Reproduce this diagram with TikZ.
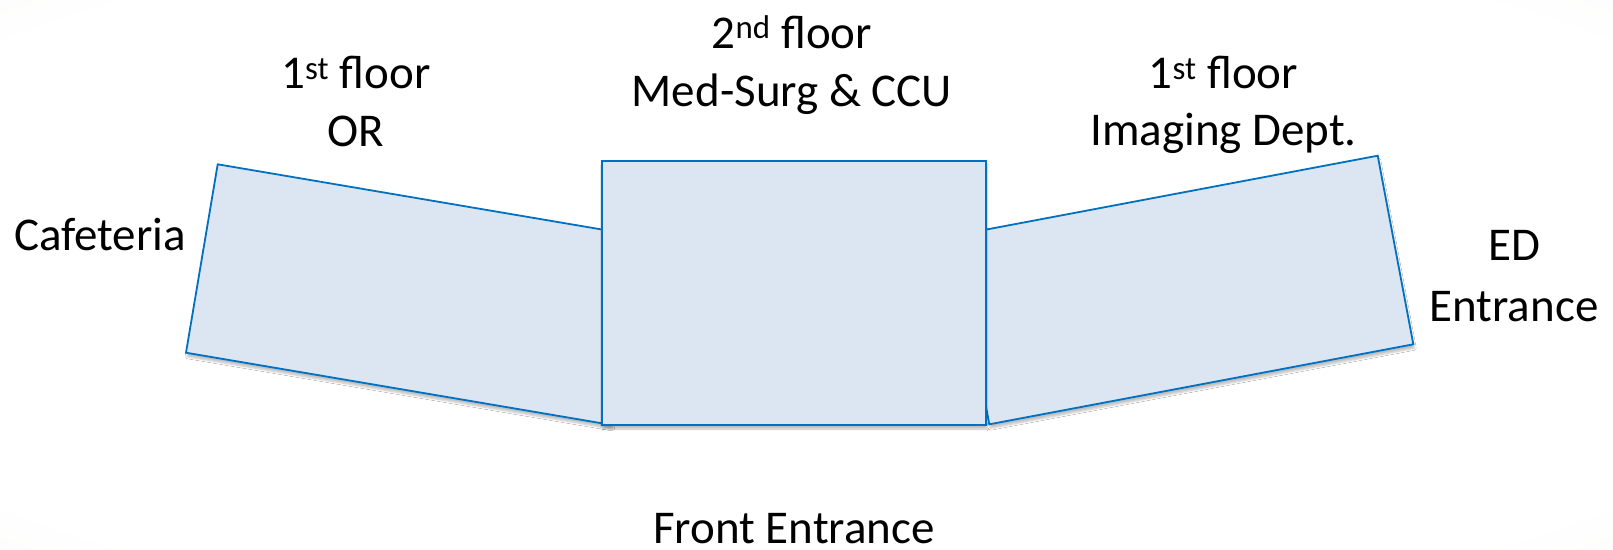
\documentclass[tikz,border=0pt]{standalone}
\usepackage{fontspec}
\setmainfont{Carlito}
\usetikzlibrary{shadows.blur}

\definecolor{wingfill}{HTML}{DCE6F2}
\definecolor{wingline}{HTML}{0070C0}
\definecolor{edgegray}{HTML}{E6E5DF}

\pgfdeclareradialshading{pagebg}{\pgfpoint{0bp}{0bp}}{%
  color(0bp)=(white); color(32bp)=(white); color(52bp)=(white!55!edgegray); color(71bp)=(edgegray)}

\tikzset{
  wing/.style={fill=wingfill, draw=wingline, line width=1.8pt, line join=miter,
    blur shadow={shadow xshift=1pt, shadow yshift=-4pt, shadow blur steps=6, shadow opacity=25}},
  label/.style={font=\fontsize{47}{57}\selectfont, anchor=base, inner sep=0pt}
}

\begin{document}
\begin{tikzpicture}[x=1pt, y=-1pt]
  % page background
  \shade[shading=pagebg] (0,0) rectangle (1613,549);
  \useasboundingbox (0,0) rectangle (1613,549);

  % west wing (OR)
  \draw[wing] (217.7,164.3) -- (643.1,236.5) -- (611.4,424.9) -- (186,352.7) -- cycle;
  % east wing (Imaging)
  \draw[wing] (953.7,235.7) -- (1377.7,155.7) -- (1413.3,344.3) -- (989.3,424.3) -- cycle;
  % central block (Med-Surg & CCU)
  \draw[wing, line width=2.2pt] (601.7,160.7) rectangle (986,425);

  % labels
  \node[label] (midfloor) at (792,48) {2\textsuperscript{nd} floor};
  \node[label] (midname)  at (792,106) {Med-Surg \& CCU};
  \node[label] (westfloor) at (356,88.5) {1\textsuperscript{st} floor};
  \node[label] (westname)  at (356,146) {OR};
  \node[label] (eastfloor) at (1223.5,88.5) {1\textsuperscript{st} floor};
  \node[label] (eastname)  at (1223.5,145) {Imaging Dept.};
  \node[label] (cafeteria) at (100,250) {Cafeteria};
  \node[label] (edtop)     at (1514,260) {ED};
  \node[label] (edbottom)  at (1514,321) {Entrance};
  \node[label] (front)     at (794,543) {Front Entrance};
\end{tikzpicture}
\end{document}
